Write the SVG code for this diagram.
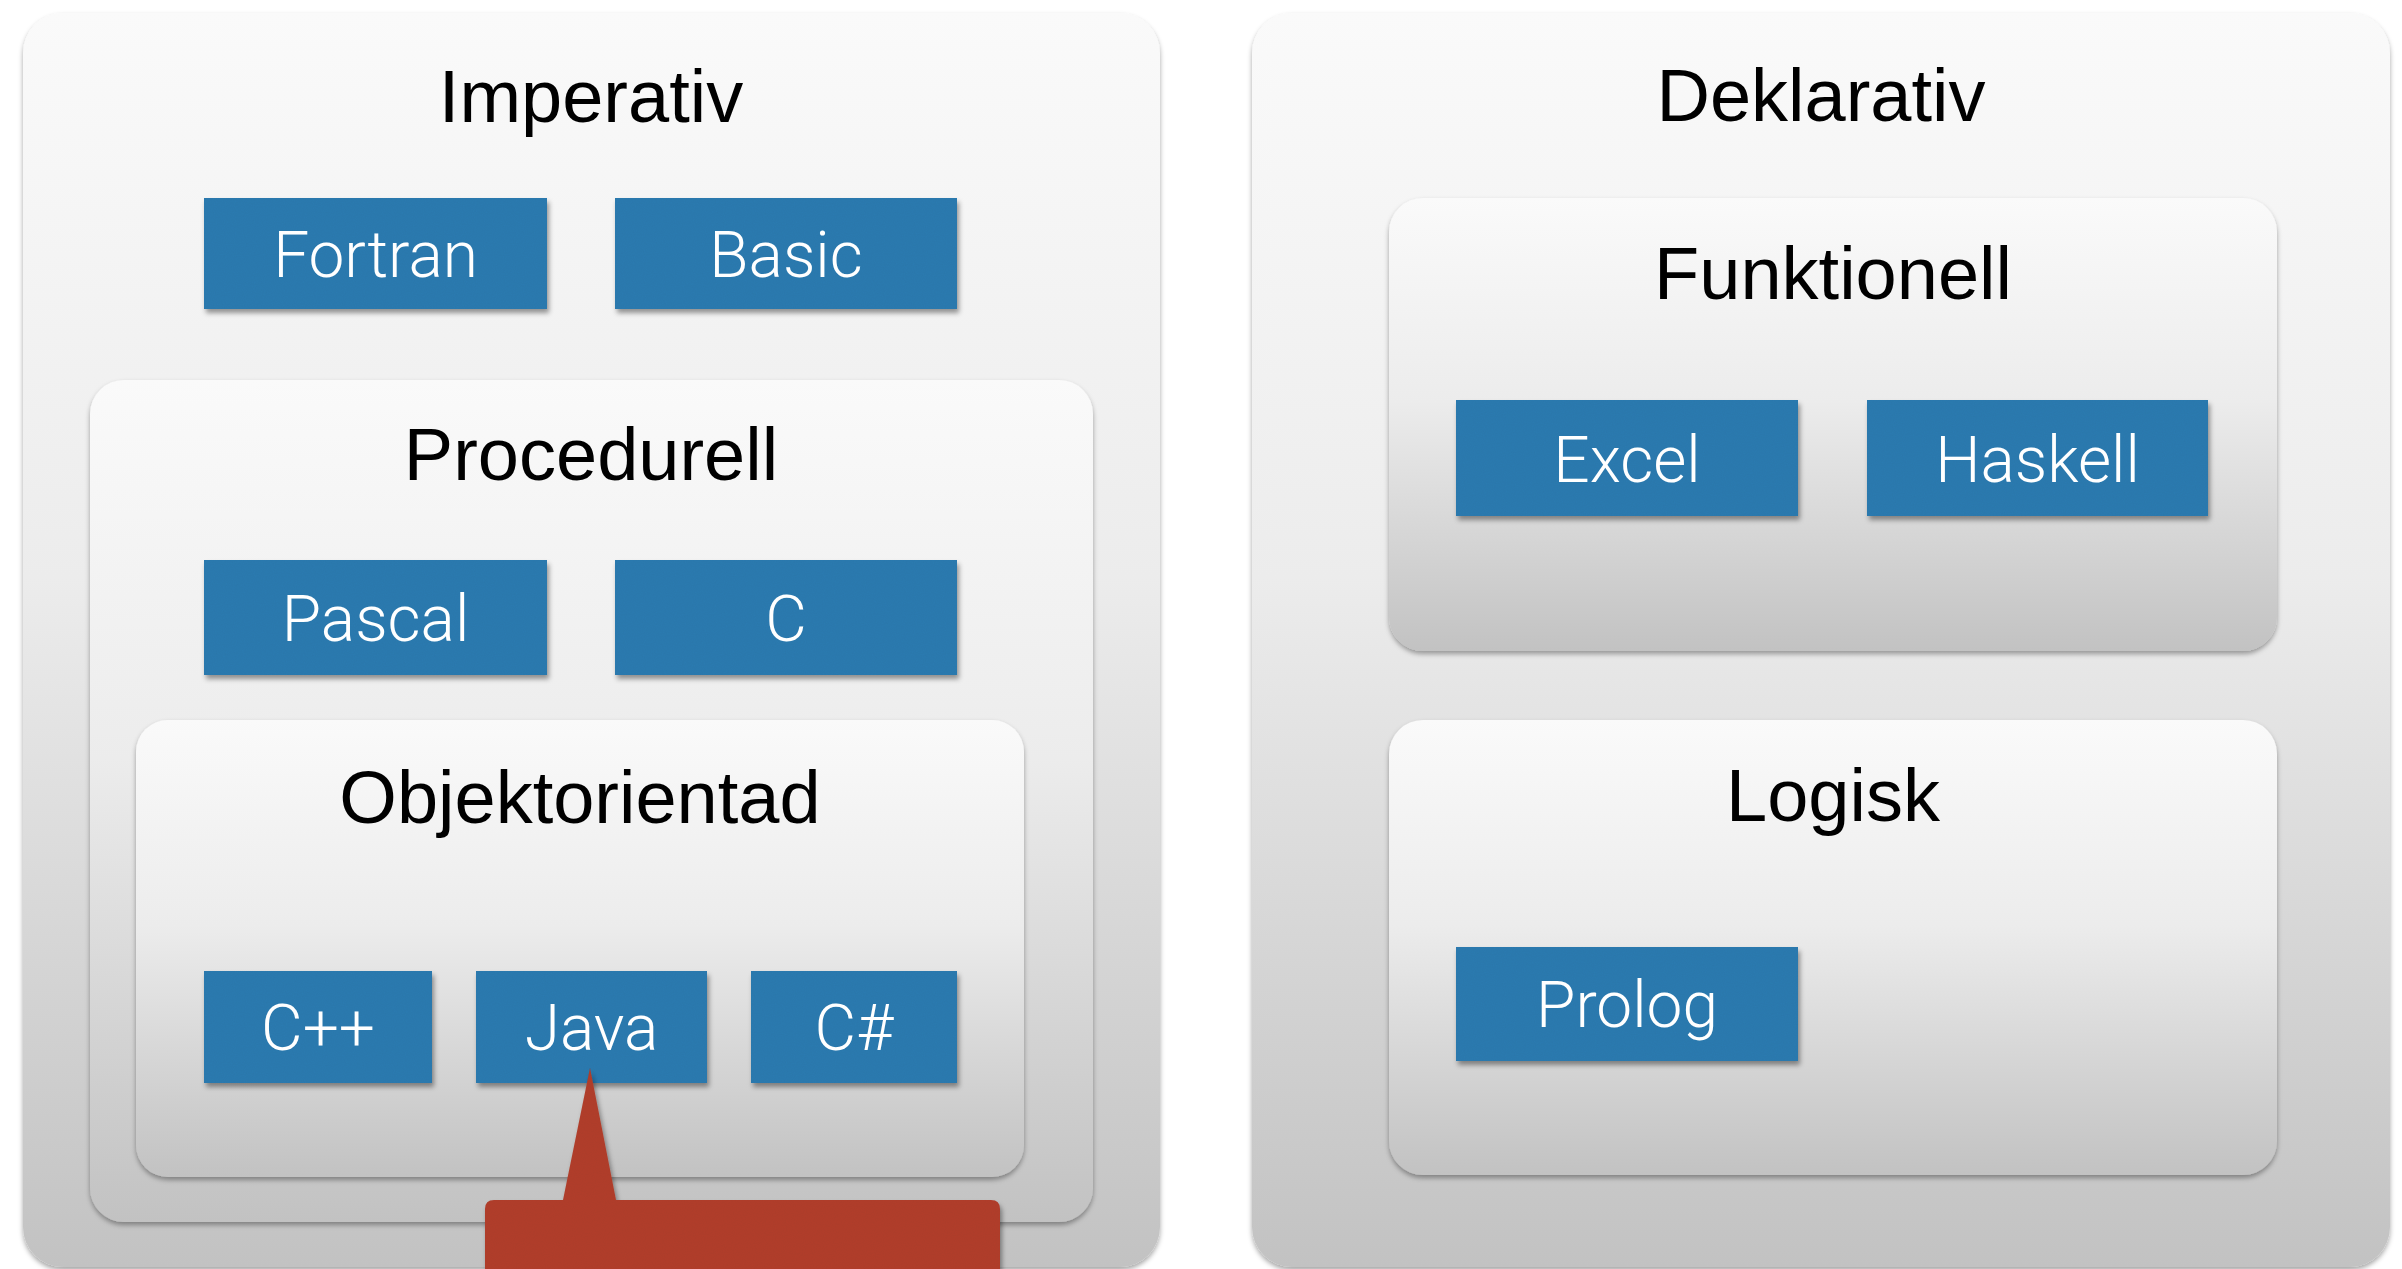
<svg xmlns="http://www.w3.org/2000/svg" width="2402" height="1269" viewBox="0 0 2402 1269">
  <defs>
    <linearGradient id="panelGrad" x1="0" y1="0" x2="0" y2="1">
      <stop offset="0" stop-color="#fafafa"/>
      <stop offset="0.45" stop-color="#ececec"/>
      <stop offset="1" stop-color="#c2c2c2"/>
    </linearGradient>
    <filter id="panelShadow" x="-5%" y="-5%" width="110%" height="112%">
      <feDropShadow dx="0" dy="3" stdDeviation="2.5" flood-color="#000" flood-opacity="0.35"/>
    </filter>
    <filter id="boxShadow" x="-5%" y="-10%" width="115%" height="130%">
      <feTurbulence type="fractalNoise" baseFrequency="0.9" numOctaves="2" seed="3" result="noise"/>
      <feColorMatrix in="noise" type="matrix" values="0 0 0 0 0  0 0 0 0 0  0 0 0 0 0  0 0 0 0.08 0" result="grain"/>
      <feComposite in="grain" in2="SourceGraphic" operator="in" result="grainIn"/>
      <feMerge result="textured">
        <feMergeNode in="SourceGraphic"/>
        <feMergeNode in="grainIn"/>
      </feMerge>
      <feDropShadow in="textured" dx="2" dy="4" stdDeviation="2.5" flood-color="#000" flood-opacity="0.4"/>
    </filter>
    <style>
      .panel { fill: url(#panelGrad); filter: url(#panelShadow); }
      .title { font-family: "Liberation Sans", Arial, sans-serif; font-size: 74px; fill: #000; text-anchor: middle; }
      .box { fill: #2e7cb1; filter: url(#boxShadow); }
      .label { font-family: Roboto, "Liberation Sans", sans-serif; font-weight: 300; font-size: 64px; fill: #fff; text-anchor: middle; }
      .callout { fill: #b2402f; filter: url(#boxShadow); }
    </style>
  </defs>

  <rect width="2402" height="1269" fill="#ffffff"/>

  <!-- Imperative paradigm -->
  <g id="imperativ">
    <rect class="panel" x="23" y="13" width="1137" height="1254" rx="40"/>
    <text class="title" x="591" y="122">Imperativ</text>
  </g>
  <g id="fortran">
    <rect class="box" x="204" y="198" width="343" height="111"/>
    <text class="label" x="375.5" y="277">Fortran</text>
  </g>
  <g id="basic">
    <rect class="box" x="615" y="198" width="342" height="111"/>
    <text class="label" x="786" y="277">Basic</text>
  </g>

  <g id="procedurell">
    <rect class="panel" x="90" y="380" width="1003" height="842" rx="34"/>
    <text class="title" x="591" y="480">Procedurell</text>
  </g>
  <g id="pascal">
    <rect class="box" x="204" y="560" width="343" height="115"/>
    <text class="label" x="375.5" y="641">Pascal</text>
  </g>
  <g id="c">
    <rect class="box" x="615" y="560" width="342" height="115"/>
    <text class="label" x="786" y="641">C</text>
  </g>

  <g id="objektorientad">
    <rect class="panel" x="136" y="720" width="888" height="457" rx="32"/>
    <text class="title" x="580" y="823">Objektorientad</text>
  </g>
  <g id="cpp">
    <rect class="box" x="204" y="971" width="228" height="112"/>
    <text class="label" x="318" y="1050">C++</text>
  </g>
  <g id="java">
    <rect class="box" x="476" y="971" width="231" height="112"/>
    <text class="label" x="591.5" y="1050">Java</text>
  </g>
  <g id="csharp">
    <rect class="box" x="751" y="971" width="206" height="112"/>
    <text class="label" x="854" y="1050">C#</text>
  </g>

  <!-- Declarative paradigm -->
  <g id="deklarativ">
    <rect class="panel" x="1252" y="13" width="1138" height="1254" rx="40"/>
    <text class="title" x="1821" y="121">Deklarativ</text>
  </g>

  <g id="funktionell">
    <rect class="panel" x="1389" y="198" width="888" height="453" rx="34"/>
    <text class="title" x="1833" y="299">Funktionell</text>
  </g>
  <g id="excel">
    <rect class="box" x="1456" y="400" width="342" height="116"/>
    <text class="label" x="1627" y="482">Excel</text>
  </g>
  <g id="haskell">
    <rect class="box" x="1867" y="400" width="341" height="116"/>
    <text class="label" x="2037.5" y="482">Haskell</text>
  </g>

  <g id="logisk">
    <rect class="panel" x="1389" y="720" width="888" height="455" rx="34"/>
    <text class="title" x="1833" y="821">Logisk</text>
  </g>
  <g id="prolog">
    <rect class="box" x="1456" y="947" width="342" height="114"/>
    <text class="label" x="1627" y="1027">Prolog</text>
  </g>

  <!-- Speech bubble pointing at Java -->
  <g id="connectors">
    <path id="callout" class="callout" d="M590,1068 L616,1200 L991,1200 Q1000,1200 1000,1209 L1000,1300 L485,1300 L485,1209 Q485,1200 494,1200 L563,1200 Z"/>
  </g>
</svg>
